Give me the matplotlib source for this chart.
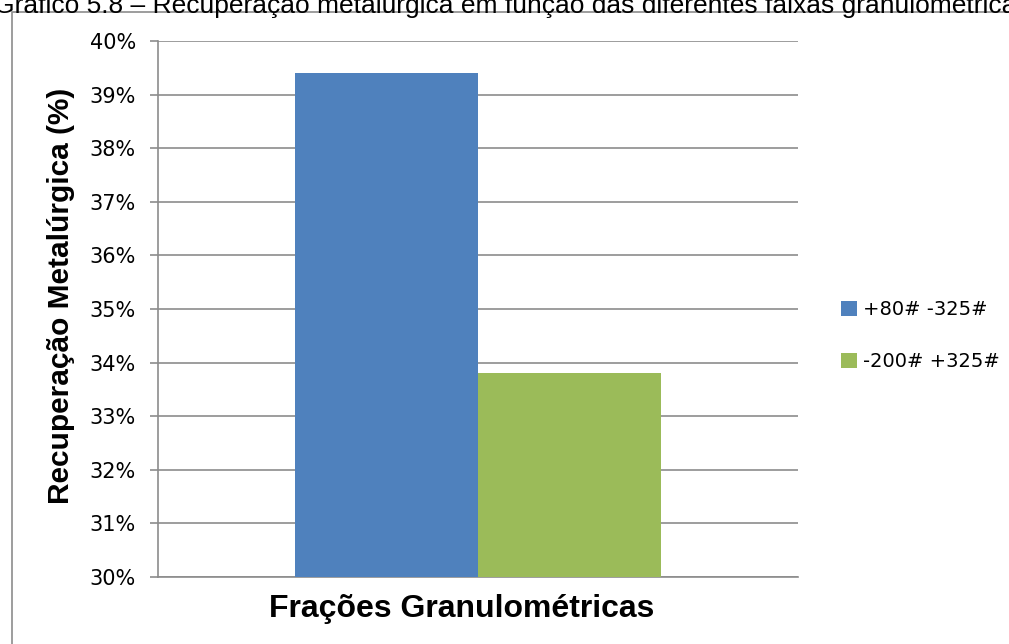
import matplotlib
matplotlib.use("Agg")
import matplotlib.pyplot as plt
from matplotlib.patches import Rectangle
from matplotlib.ticker import FuncFormatter, MultipleLocator

# Data
categories = ["Frações Granulométricas"]
series_names = ["+80# -325#", "-200# +325#"]
series_values = [39.4, 33.8]  # metallurgical recovery, %
series_colors = ["#4F81BD", "#9BBB59"]

title_text = "Gráfico 5.8 – Recuperação metalúrgica em função das diferentes faixas granulométricas"
y_label = "Recuperação Metalúrgica (%)"

W, H = 1009, 644
fig = plt.figure(figsize=(W / 100, H / 100), dpi=100)
fig.patch.set_facecolor("white")

# plot area in pixel coordinates
left, right, top, bottom = 158, 798, 41, 577
ax = fig.add_axes([left / W, 1 - bottom / H, (right - left) / W, (bottom - top) / H])

bar_w = 0.286
offsets = [-bar_w / 2, bar_w / 2]
for name, val, col, off in zip(series_names, series_values, series_colors, offsets):
    ax.bar(0 + off, val - 30, bottom=30, width=bar_w, color=col, label=name, zorder=3)

ax.set_xlim(-0.5, 0.5)
ax.set_ylim(30, 40)
ax.yaxis.set_major_locator(MultipleLocator(1))
ax.yaxis.set_major_formatter(FuncFormatter(lambda v, p: f"{v:.0f}%"))
ax.set_xticks([])
ax.grid(axis="y", color="#8c8c8c", linewidth=1.2, zorder=0)
for s in ["top", "right"]:
    ax.spines[s].set_visible(False)
for s in ["left", "bottom"]:
    ax.spines[s].set_color("#8c8c8c")
    ax.spines[s].set_linewidth(1.2)
ax.tick_params(axis="y", length=6, width=1.2, color="#8c8c8c", labelsize=15, pad=10)

# axis titles
fig.text(462 / W, 1 - 617 / H, categories[0], fontsize=23, fontweight="bold",
         family=["Liberation Sans", "DejaVu Sans"], ha="center", va="baseline")
fig.text(61 / W, 1 - 296 / H, y_label, fontsize=21.5, fontweight="bold",
         family=["Liberation Sans", "DejaVu Sans"], ha="center", va="center",
         rotation=90)

leg = fig.legend(loc="upper left", bbox_to_anchor=(841 / W, 1 - 300 / H),
                 frameon=False, fontsize=14, handlelength=0.8, handleheight=0.8,
                 handletextpad=0.32, labelspacing=1.7, borderpad=0,
                 borderaxespad=0)

# outer chart border (extends beyond the right and bottom edges)
fig.patches.append(Rectangle((12 / W, -0.05), 1.1, 1 - 12 / H + 0.05,
                             transform=fig.transFigure, fill=False,
                             edgecolor="#8c8c8c", linewidth=1.2, clip_on=False))

# caption above the chart, partly cut by the top edge
fig.text(-6 / W, 1 - 13 / H, title_text, fontsize=19,
         family=["Liberation Sans", "DejaVu Sans"],
         ha="left", va="baseline")

fig.savefig("out.png", dpi=100, facecolor="white")
